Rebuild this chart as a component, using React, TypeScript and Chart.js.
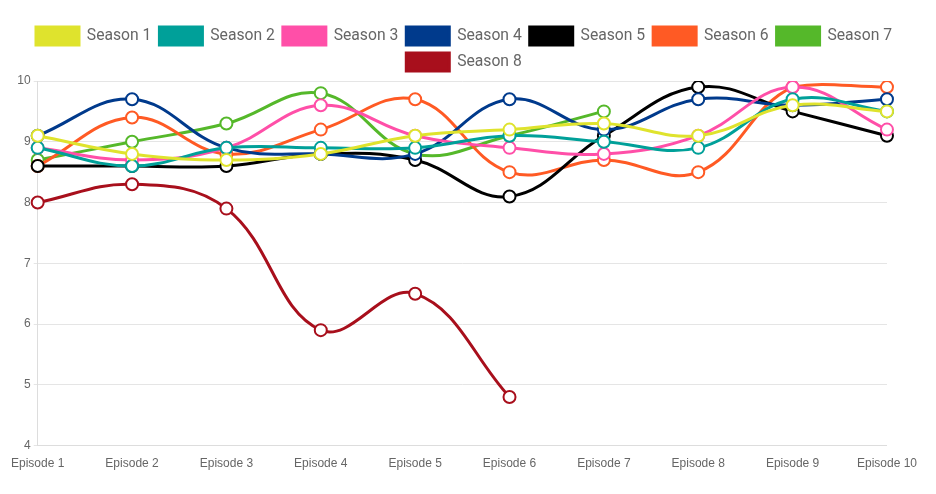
import React, { useEffect, useRef } from "react";
import { Chart, registerables } from "chart.js";

Chart.register(...registerables);

const episodes = ["Episode 1", "Episode 2", "Episode 3", "Episode 4", "Episode 5", "Episode 6", "Episode 7", "Episode 8", "Episode 9", "Episode 10"];
const seasonNames = ["Season 1", "Season 2", "Season 3", "Season 4", "Season 5", "Season 6", "Season 7", "Season 8"];
const season1 = [9.1, 8.8, 8.7, 8.8, 9.1, 9.2, 9.3, 9.1, 9.6, 9.5];
const season2 = [8.9, 8.6, 8.9, 8.9, 8.9, 9.1, 9.0, 8.9, 9.7, 9.5];
const season3 = [8.9, 8.7, 8.9, 9.6, 9.1, 8.9, 8.8, 9.1, 9.9, 9.2];
const season4 = [9.1, 9.7, 8.9, 8.8, 8.8, 9.7, 9.2, 9.7, 9.6, 9.7];
const season5 = [8.6, 8.6, 8.6, 8.8, 8.7, 8.1, 9.1, 9.9, 9.5, 9.1];
const season6 = [8.6, 9.4, 8.8, 9.2, 9.7, 8.5, 8.7, 8.5, 9.9, 9.9];
const season7 = [8.7, 9.0, 9.3, 9.8, 8.8, 9.1, 9.5];
const season8 = [8.0, 8.3, 7.9, 5.9, 6.5, 4.8];
const seasonColors = ["#dfe32d", "#00a099", "#ff4fa8", "#003a8c", "#000000", "#ff5a24", "#55b82a", "#a80f1c"];
const yTicks = [4, 5, 6, 7, 8, 9, 10];

export default function App() {
  const ref = useRef<HTMLCanvasElement>(null);
  useEffect(() => {
    const all = [season1, season2, season3, season4, season5, season6, season7, season8];
    const chart = new Chart(ref.current!, {
      type: "line",
      data: {
        labels: episodes,
        datasets: all.map((d, i) => ({
          label: seasonNames[i],
          data: d,
          borderColor: seasonColors[i],
          backgroundColor: seasonColors[i],
          pointBackgroundColor: "#ffffff",
          pointBorderColor: seasonColors[i],
          pointBorderWidth: 2,
          pointRadius: 6,
          borderWidth: 3,
          tension: 0.4,
          fill: false,
        })),
      },
      options: {
        animation: false,
        responsive: true,
        maintainAspectRatio: false,
        layout: { padding: { top: 11, bottom: 12 } },
        plugins: {
          legend: {
            position: "top",
            labels: {
              boxWidth: 43,
              boxHeight: 18,
              padding: 8,
              color: "#666",
              font: { family: "Roboto, 'Liberation Sans', Arial", size: 15.7 },
            },
          },
          tooltip: { enabled: false },
        },
        scales: {
          x: {
            grid: { display: false },
            border: { display: true, color: "#ddd" },
            ticks: { color: "#666", font: { family: "'Liberation Sans', Arial", size: 12 }, maxRotation: 0 },
          },
          y: {
            min: 4,
            max: 10,
            afterBuildTicks: (axis: any) => {
              axis.ticks = yTicks.map((v) => ({ value: v }));
            },
            grid: { color: "#e5e5e5", tickLength: 4 },
            border: { display: true, color: "#ddd" },
            ticks: { color: "#666", font: { family: "'Liberation Sans', Arial", size: 12 } },
          },
        },
      },
    });
    return () => chart.destroy();
  }, []);
  return (
    <div style={{ width: 912, height: 478, position: "relative" }}>
      <canvas ref={ref} />
    </div>
  );
}
